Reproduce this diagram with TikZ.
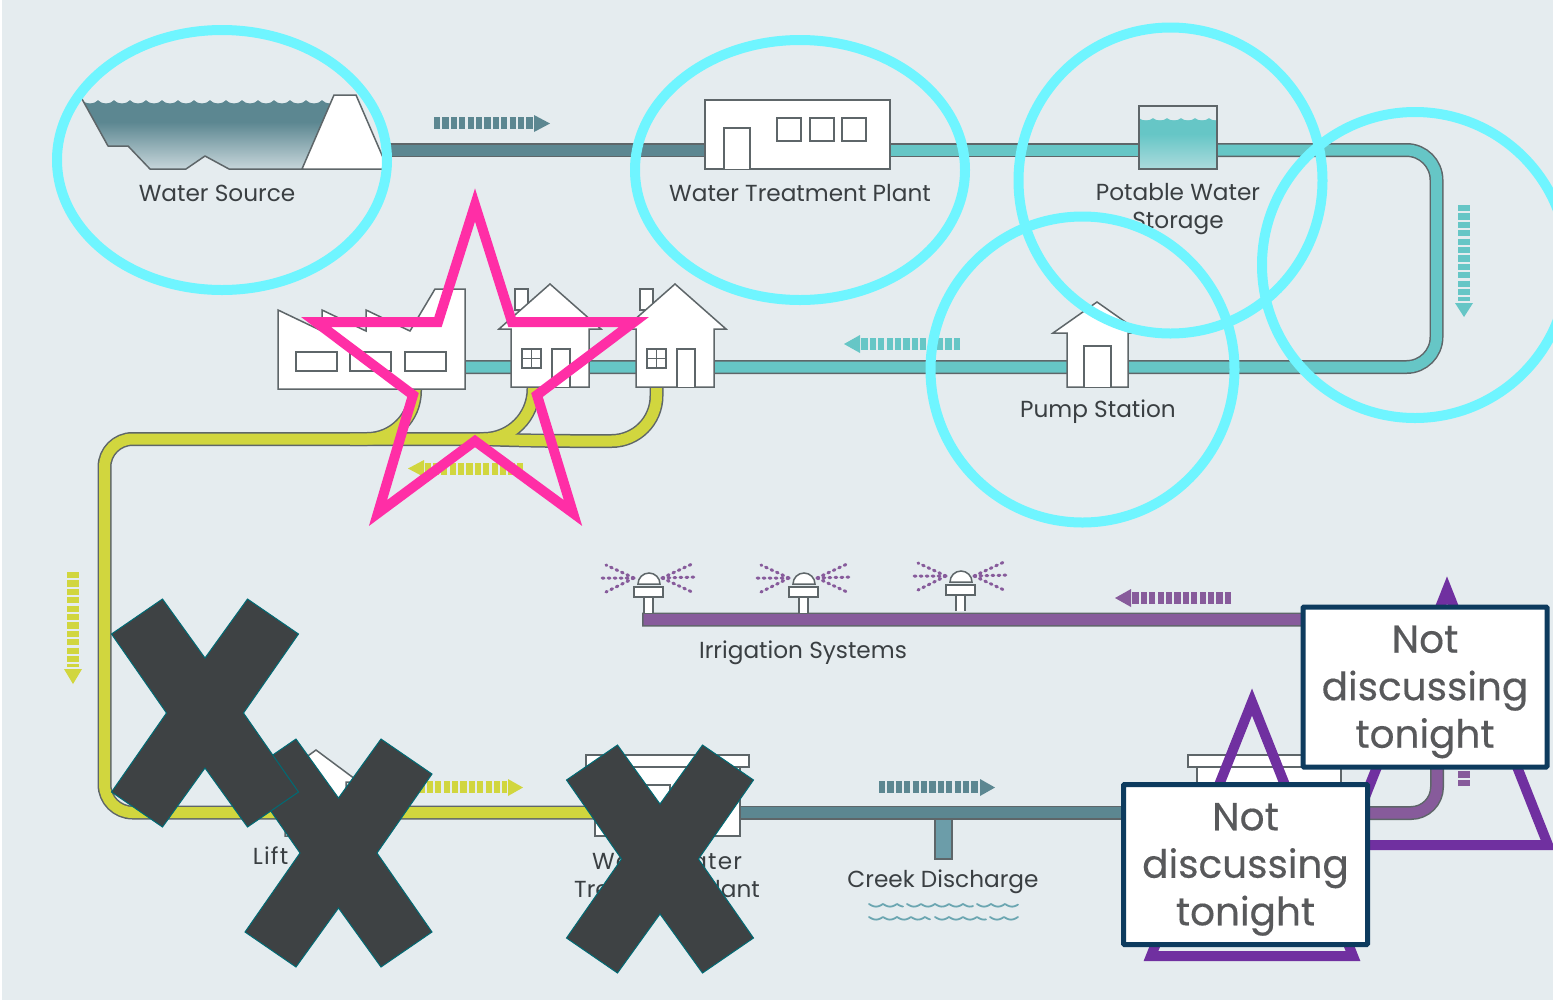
\documentclass[tikz,border=0pt]{standalone}
\usepackage{fontspec}
\setmainfont{Poppins}
\newfontfamily\notefont[FakeBold=0.35]{Poppins}
\usetikzlibrary{shapes.geometric,calc}
\definecolor{bgc}{HTML}{E5ECEF}
\definecolor{edgec}{HTML}{5E6669}
\definecolor{labc}{HTML}{3A3F42}
\definecolor{dteal}{HTML}{5C8791}
\definecolor{lteal}{HTML}{66C6C6}
\definecolor{yel}{HTML}{D1D63E}
\definecolor{purp}{HTML}{875B9B}
\definecolor{creek}{HTML}{6C9DA9}
\definecolor{wavec}{HTML}{6BA6B1}
\definecolor{cyanring}{HTML}{6FF5FF}
\definecolor{pinkstar}{HTML}{FF2EA6}
\definecolor{tri}{HTML}{7030A0}
\definecolor{xfill}{HTML}{3E4244}
\definecolor{xedge}{HTML}{006B75}
\definecolor{boxedge}{HTML}{0D3B5E}
\definecolor{boxtext}{HTML}{58595B}
\newcommand{\flowbar}[6]{%
  \draw[color=#1,line width=12pt,dash pattern=on 6.2pt off 2.2pt] (#2) -- (#3);
  \fill[#1] (#4) -- (#5) -- (#6) -- cycle;}
\newcommand{\housebody}[1]{%
  \begin{scope}[xshift=#1pt]
    \draw[bldg] (515,310) -- (515,289) -- (528,289) -- (528,310) -- cycle;
    \draw[bldg] (511,387) -- (511,329) -- (499,329) -- (550,284) -- (601,329) -- (589,329) -- (589,387) -- cycle;
    \draw[bldg] (522,349) rectangle (541,368);
    \draw[thin bldg] (531.5,349) -- (531.5,368) (522,358.5) -- (541,358.5);
    \draw[bldg] (552,387) -- (552,349) -- (570,349) -- (570,387);
  \end{scope}}
\newcommand{\sprinkler}[2]{%
  \begin{scope}[shift={(#1,#2)}]
    \draw[spray] (634,578) -- (606,565) (634,578) -- (602,578) (634,578) -- (606,592);
    \draw[spray] (662,578) -- (692,564) (662,578) -- (696,577) (662,578) -- (692,592);
    \draw[bldg] (644,613) -- (644,597) -- (653,597) -- (653,613);
    \draw[bldg] (634,587) rectangle (663,597);
    \draw[bldg] (638,584) arc[start angle=180,end angle=0,x radius=11pt,y radius=11pt] -- cycle;
  \end{scope}}
\newcommand{\xshape}[2]{%
  \draw[xmark,shift={(#1,#2)}] (-42.5,-114) -- (0,-55) -- (42.5,-114) -- (93.5,-79) -- (38.5,0) -- (93.5,79) -- (42.5,114) -- (0,55) -- (-42.5,114) -- (-93.5,79) -- (-38.5,0) -- (-93.5,-79) -- cycle;}
\newcommand{\waverow}[3]{\draw[wavec,line width=1.8pt,line cap=round] plot[domain=#1:#2,samples=60,smooth] (\x,{#3+2.6*abs(sin((\x-#1)*180/14))});}
\tikzset{
  x=1pt,y=-1pt,
  bldg/.style={draw=edgec,fill=white,line width=1.5pt,line join=miter},
  thin bldg/.style={draw=edgec,line width=1.2pt},
  lab/.style={text=labc,font=\fontsize{23.2}{28}\selectfont,align=center,inner sep=0pt,anchor=base},
  pipeO/.style={draw=edgec,line width=14pt,rounded corners=#1},
  pipeO/.default=0pt,
  pipeI/.style={line width=11pt,rounded corners=#1},
  ring/.style={draw=cyanring,line width=10pt},
  spray/.style={draw=purp,line width=3pt,line cap=round,dash pattern=on 1.8pt off 4.2pt},
  xmark/.style={fill=xfill,draw=xedge,line width=1pt,line join=miter},
  trimark/.style={draw=tri,line width=10pt,line join=miter,miter limit=10},
  notebox/.style={draw=boxedge,fill=white,line width=5pt,minimum width=244pt,minimum height=160pt,rounded corners=1pt,
    text=boxtext,align=center,inner sep=0pt,font=\notefont\fontsize{39}{47.5}\selectfont},
}
\begin{document}
\begin{tikzpicture}
\useasboundingbox (0,0) rectangle (1553,1005);
\fill[white] (0,0) rectangle (1553,1005);
\fill[bgc] (2,0) rectangle (1553,1000);

% named ends of the pipes
\coordinate (sourceR) at (383,150);
\coordinate (plantL) at (710,150);
\coordinate (plantR) at (885,150);
\coordinate (tankL) at (1145,150);
\coordinate (tankR) at (1210,150);
\coordinate (loopR) at (1436.5,367);
\coordinate (factoryR) at (460,367);
\coordinate (factoryB) at (415,385);
\coordinate (houseAB) at (533.5,385);
\coordinate (houseBB) at (656.5,385);
\coordinate (yA) at (350,439);
\coordinate (yB) at (480,439);
\coordinate (yC) at (530,441);
\coordinate (yLeft) at (104.5,812.5);
\coordinate (wwL) at (600,812.5);
\coordinate (wwR) at (735,812.5);
\coordinate (reclL) at (1200,812.5);
\coordinate (reclR) at (1335,813);
\coordinate (irrCorner) at (1437,619.5);
\coordinate (irrEnd) at (642,619.5);
\coordinate (irrEndIn) at (643.5,619.5);

% pipes
\draw[pipeO] (sourceR) -- (plantL);
\draw[dteal,pipeI=0pt] (sourceR) -- (plantL);
\draw[pipeO] (plantR) -- (tankL);
\draw[lteal,pipeI=0pt] (plantR) -- (tankL);
\draw[pipeO=30pt] (tankR) -| (loopR) -- (factoryR);
\draw[lteal,pipeI=30pt] (tankR) -| (loopR) -- (factoryR);

\draw[pipeO=48pt] (factoryB) |- (yA);
\draw[pipeO=50pt] (houseAB) |- (yB);
\draw[pipeO=45pt] (houseBB) |- (yC) -- (yB);
\draw[pipeO=28pt] (yB) -| (yLeft) -- (wwL);
\draw[yel,pipeI=48pt] (factoryB) |- (yA);
\draw[yel,pipeI=50pt] (houseAB) |- (yB);
\draw[yel,pipeI=45pt] (houseBB) |- (yC) -- (yB);
\draw[yel,pipeI=28pt] (yB) -| (yLeft) -- (wwL);

\draw[pipeO] (wwR) -- (reclL);
\draw[dteal,pipeI=0pt] (wwR) -- (reclL);
\draw[pipeO=26pt] (reclR) -| (irrCorner) -- (irrEnd);
\draw[purp,pipeI=26pt] (reclR) -| (irrCorner) -- (irrEndIn);
\draw[draw=edgec,fill=creek,line width=1.5pt] (935,819) rectangle (952,859);

% flow arrows
\flowbar{dteal}{434,123}{533,123}{534,115}{534,132}{550,123.5}
\flowbar{lteal}{1464,205}{1464,300.5}{1455,303}{1473,303}{1464,317}
\flowbar{lteal}{960,344}{861,344}{860,335}{860,353}{844,344}
\flowbar{yel}{523,468.5}{425,468.5}{424,460}{424,477}{408,468.5}
\flowbar{yel}{73,572}{73,667}{64,669}{82,669}{73,684}
\flowbar{yel}{410,787}{507,787}{508,779}{508,796}{523,787.5}
\flowbar{purp}{1231,598}{1132,598}{1131,589}{1131,607}{1115,598}
\flowbar{dteal}{879,787}{978,787}{980,779}{980,796}{995,787.5}
\draw[purp,line width=12pt,dash pattern=on 6.2pt off 2.2pt] (1464,786) -- (1464,700);

% water source
\begin{scope}
  \clip (82,99) -- (108,146) -- (128,146) -- (150,169) -- (186,169) -- (205,156) -- (229,169) -- (302,169) -- (334,99) -- cycle;
  \fill[dteal] (80,99) rectangle (340,122);
  \shade[top color=dteal,bottom color=dteal!22!bgc] (80,122) rectangle (340,169);
  \foreach \i in {0,...,15}{
    \fill[bgc] (82+\i*16,98) -- (82+\i*16,100) .. controls (86+\i*16,104.5) and (94+\i*16,104.5) .. (98+\i*16,100) -- (98+\i*16,98) -- cycle;}
\end{scope}
\draw[edgec,line width=1.5pt,line join=round] (82,99) -- (108,146) -- (128,146) -- (150,169) -- (186,169) -- (205,156) -- (229,169) -- (302,169);
\draw[bldg] (302,169) -- (334,95) -- (356,95) -- (388,169) -- cycle;

% treatment plant
\draw[bldg] (705,100) rectangle (890,169);
\draw[bldg] (724,169) -- (724,128) -- (750,128) -- (750,169);
\draw[bldg] (777,118) rectangle (801,141);
\draw[bldg] (810,118) rectangle (834,141);
\draw[bldg] (842,118) rectangle (866,141);

% tank
\begin{scope}
  \clip (1139,106) rectangle (1217,169);
  \fill[bgc] (1139,106) rectangle (1217,169);
  \fill[lteal] (1139,118) rectangle (1217,134);
  \shade[top color=lteal,bottom color=lteal!45!bgc] (1139,134) rectangle (1217,169);
  \foreach \i in {0,...,5}{
    \fill[bgc] (1139+\i*14,116) -- (1139+\i*14,118) .. controls (1142+\i*14,121) and (1150+\i*14,121) .. (1153+\i*14,118) -- (1153+\i*14,116) -- cycle;}
\end{scope}
\draw[draw=edgec,line width=1.5pt] (1139,106) rectangle (1217,169);

% pump station
\draw[bldg] (1067,387) -- (1067,333) -- (1053,333) -- (1097,302) -- (1141,333) -- (1128,333) -- (1128,387) -- cycle;
\draw[bldg] (1084,387) -- (1084,346) -- (1111,346) -- (1111,387);

% factory and houses
\draw[bldg] (278,389) -- (278,310) -- (322,331) -- (322,310) -- (366,331) -- (366,310) -- (410,331) -- (435,289) -- (465,289) -- (465,389) -- cycle;
\draw[bldg] (296,352) rectangle (337,371);
\draw[bldg] (350,352) rectangle (391,371);
\draw[bldg] (405,352) rectangle (446,371);
\housebody{0}
\housebody{125}

% sprinklers
\sprinkler{0}{0}
\sprinkler{155}{0}
\sprinkler{312}{-2}

% lift station
\draw[bldg] (285,836) -- (285,782) -- (272,782) -- (316,750) -- (359,782) -- (346,782) -- (346,836) -- cycle;

% wastewater plant
\draw[bldg] (595,767) rectangle (740,836);
\draw[bldg] (586,755) rectangle (749,767);
\draw[bldg] (620,836) -- (620,785) -- (670,785) -- (670,836);

% reclaimed plant
\draw[bldg] (1197,767) rectangle (1341,836);
\draw[bldg] (1188,755) rectangle (1350,767);

% labels
\node[lab] (lsource) at (217,201) {Water Source};
\node[lab] (lplant) at (800,201) {Water Treatment Plant};
\node[lab] (ltankA) at (1178,200) {Potable Water};
\node[lab] (ltankB) at (1178,228) {Storage};
\node[lab] (lpump) at (1098,417) {Pump Station};
\node[lab] (lirr) at (803,658) {Irrigation Systems};
\node[lab] (llift) at (313,864) {{\addfontfeature{LetterSpace=5}Lift}\hspace{11pt}{\fontsize{21}{28}\selectfont Station}};
\node[lab] (lwwA) at (667,869) {\addfontfeature{LetterSpace=5}Wastewater};
\node[lab] (lwwB) at (667,897) {Treatment Plant};
\node[lab] (lcreek) at (943,887) {Creek Discharge};

% creek waves
\waverow{869}{903}{904}
\waverow{907}{973}{904}
\waverow{977}{1018}{904}
\waverow{869}{930}{917}
\waverow{935}{986}{917}
\waverow{990}{1018}{917}

% rings
\draw[ring] (222,160) ellipse [x radius=165pt,y radius=130pt];
\draw[ring] (800,170) ellipse [x radius=165pt,y radius=130pt];
\draw[ring] (1170.5,180.5) ellipse [x radius=152pt,y radius=153pt];
\draw[ring] (1415,265) ellipse [x radius=153pt,y radius=153pt];
\draw[ring] (1082.5,369.5) ellipse [x radius=152pt,y radius=153pt];

% star
\draw[draw=pinkstar,line width=10pt,line join=miter,miter limit=10]
  (475,205) -- (512,322) -- (634,322) -- (537,395) -- (573,513) -- (475,441) -- (378,513) -- (413,395) -- (316,322) -- (438,322) -- cycle;

% crosses
\xshape{338.5}{853}
\xshape{205}{713}
\xshape{660}{859}

% triangles
\draw[trimark] (1252,702) -- (1353,956) -- (1151,956) -- cycle;
\draw[trimark] (1447,590) -- (1548,845) -- (1346,845) -- cycle;

% notes
\node[notebox] (noteLower) at (1245.5,864.5) {\rule{0pt}{37pt}Not\\discussing\\tonight};
\node[notebox] (noteUpper) at (1425,687) {\rule{0pt}{37pt}Not\\discussing\\tonight};
\end{tikzpicture}
\end{document}
